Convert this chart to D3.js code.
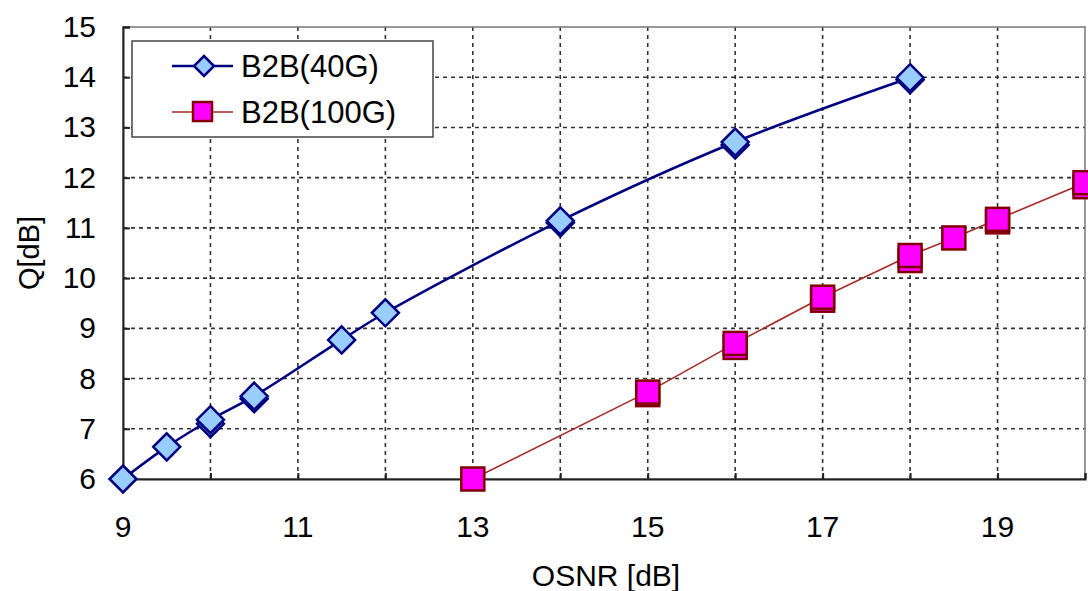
<!DOCTYPE html>
<html>
<head>
<meta charset="utf-8">
<script src="https://cdn.jsdelivr.net/npm/d3@7"></script>
<style>
    body { margin: 0; background: #fff; }
    svg { display: block; font-family: "Liberation Sans", Arial, sans-serif; }
</style>
</head>
<body>
<div id="chart"></div>
<script>
// data
const osnr40 = [9, 9.5, 10, 10.5, 11.5, 12, 14, 16, 18];
const q40 = [6.0, 6.64, 7.18, 7.65, 8.77, 9.31, 11.14, 12.71, 13.99];
// second (repeat) readings that sit just under some markers
const osnr40Rep = [10, 10.5, 14, 16, 18];
const q40Rep = [7.1, 7.6, 11.1, 12.65, 13.95];

const osnr100 = [13, 15, 16, 17, 18, 18.5, 19, 20];
const q100 = [6.0, 7.73, 8.7, 9.62, 10.45, 10.8, 11.17, 11.9];
const osnr100Rep = [15, 16, 17, 18, 19, 20];
const q100Rep = [7.68, 8.62, 9.56, 10.35, 11.12, 11.82];

const xTicks = [9, 11, 13, 15, 17, 19];
const yTicks = [6, 7, 8, 9, 10, 11, 12, 13, 14, 15];
const seriesNames = ["B2B(40G)", "B2B(100G)"];

let width = 1088, height = 591;
let margin = {top: 27, right: 3, bottom: 112, left: 123};

let svg = d3.select("#chart").append("svg")
    .attr("width", width)
    .attr("height", height);

let x = d3.scaleLinear().domain([9, 20]).range([margin.left, width - margin.right]);
let y = d3.scaleLinear().domain([6, 15]).range([height - margin.bottom, margin.top]);

// gridlines
let grid = svg.append("g").attr("stroke", "#333").attr("stroke-width", 1.6).attr("stroke-dasharray", "4,4");
d3.range(10, 20).forEach(function (v) {
    grid.append("line").attr("x1", x(v)).attr("x2", x(v)).attr("y1", y(6)).attr("y2", y(15));
});
d3.range(7, 15).forEach(function (v) {
    grid.append("line").attr("x1", x(9)).attr("x2", x(20)).attr("y1", y(v)).attr("y2", y(v));
});

// frame
svg.append("rect")
    .attr("x", x(9)).attr("y", y(15))
    .attr("width", x(20) - x(9)).attr("height", y(6) - y(15))
    .attr("fill", "none").attr("stroke", "#777").attr("stroke-width", 1.5);

// axes
let xAxis = svg.append("g")
    .attr("transform", `translate(0, ${y(6)})`)
    .call(d3.axisBottom(x).tickValues(d3.range(9, 21)).tickSize(-6).tickFormat(""));
let yAxis = svg.append("g")
    .attr("transform", `translate(${x(9)}, 0)`)
    .call(d3.axisLeft(y).tickValues(yTicks).tickSize(-7).tickFormat(""));
[xAxis, yAxis].forEach(function (a) {
    a.selectAll("path, line").attr("stroke", "#222").attr("stroke-width", 2);
});

svg.append("g").selectAll("text").data(xTicks).enter().append("text")
    .attr("x", d => x(d)).attr("y", 537)
    .attr("text-anchor", "middle")
    .attr("font-size", 30)
    .text(d => d);

svg.append("g").selectAll("text").data(yTicks).enter().append("text")
    .attr("x", 96).attr("y", d => y(d) + 10)
    .attr("text-anchor", "end")
    .attr("font-size", 30)
    .text(d => d);

svg.append("text")
    .attr("x", 606).attr("y", 586)
    .attr("text-anchor", "middle")
    .attr("font-size", 30)
    .text("OSNR [dB]");

svg.append("text")
    .attr("transform", "translate(39, 253) rotate(-90)")
    .attr("text-anchor", "middle")
    .attr("font-size", 29)
    .text("Q[dB]");

// series
let plot = svg.append("g");

let pts40 = osnr40.map((d, i) => [d, q40[i]]);
let pts100 = osnr100.map((d, i) => [d, q100[i]]);

plot.append("path")
    .attr("d", d3.line().x(d => x(d[0])).y(d => y(d[1])).curve(d3.curveCatmullRom)(pts40))
    .attr("fill", "none").attr("stroke", "#000080").attr("stroke-width", 2.5);

plot.append("path")
    .attr("d", d3.line().x(d => x(d[0])).y(d => y(d[1]))(pts100))
    .attr("fill", "none").attr("stroke", "#a52a2a").attr("stroke-width", 1.6);

function diamond(sel, cx, cy, r) {
    sel.append("path")
        .attr("d", `M${cx},${cy - r}L${cx + r},${cy}L${cx},${cy + r}L${cx - r},${cy}Z`)
        .attr("fill", "#99ccff").attr("stroke", "#000080").attr("stroke-width", 2.5);
}
function square(sel, cx, cy, s) {
    sel.append("rect")
        .attr("x", cx - s / 2).attr("y", cy - s / 2)
        .attr("width", s).attr("height", s)
        .attr("fill", "#ff00ff").attr("stroke", "#800000").attr("stroke-width", 2.5);
}

osnr40Rep.forEach(function (d, i) { diamond(plot, x(d), y(q40Rep[i]), 13.5); });
pts40.forEach(function (d) { diamond(plot, x(d[0]), y(d[1]), 13.5); });
osnr100Rep.forEach(function (d, i) { square(plot, x(d), y(q100Rep[i]), 23); });
pts100.forEach(function (d) { square(plot, x(d[0]), y(d[1]), 23); });

// legend
let legend = svg.append("g");
legend.append("rect")
    .attr("x", 132).attr("y", 41).attr("width", 301).attr("height", 96)
    .attr("fill", "#fff").attr("stroke", "#444").attr("stroke-width", 1.5);

seriesNames.forEach(function (name, i) {
    let ly = 66 + i * 46;
    legend.append("line")
        .attr("x1", 172).attr("x2", 233).attr("y1", ly).attr("y2", ly)
        .attr("stroke", i == 0 ? "#000080" : "#a52a2a").attr("stroke-width", i == 0 ? 2.5 : 1.6);
    if (i == 0) {
        legend.append("path")
            .attr("d", `M204,${ly - 10}L214,${ly}L204,${ly + 10}L194,${ly}Z`)
            .attr("fill", "#99ccff").attr("stroke", "#000080").attr("stroke-width", 2.5);
    } else {
        legend.append("rect")
            .attr("x", 193).attr("y", ly - 10).attr("width", 19).attr("height", 19)
            .attr("fill", "#ff00ff").attr("stroke", "#800000").attr("stroke-width", 2.5);
    }
    legend.append("text")
        .attr("x", 241).attr("y", ly + 11)
        .attr("font-size", 31)
        .text(name);
});
</script>
</body>
</html>
